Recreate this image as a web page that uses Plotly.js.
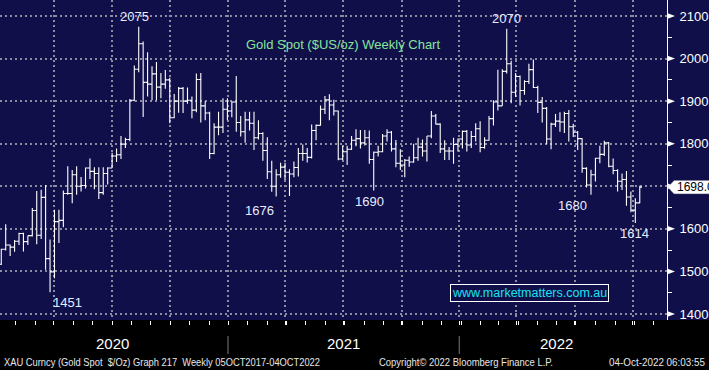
<!DOCTYPE html>
<html><head><meta charset="utf-8">
<script src="https://cdn.plot.ly/plotly-3.0.1.min.js"></script>
<style>html,body{margin:0;padding:0;background:#000;}#chart{width:709px;height:370px;}</style>
</head><body><div id="chart"></div>
<script>
// ---- DATA (weekly XAU spot, week-ending dates) ----
const weeks = [
'2020-01-03','2020-01-10','2020-01-17','2020-01-24','2020-01-31','2020-02-07','2020-02-14','2020-02-21','2020-02-28','2020-03-06',
'2020-03-13','2020-03-20','2020-03-27','2020-04-03','2020-04-10','2020-04-17','2020-04-24','2020-05-01','2020-05-08','2020-05-15',
'2020-05-22','2020-05-29','2020-06-05','2020-06-12','2020-06-19','2020-06-26','2020-07-03','2020-07-10','2020-07-17','2020-07-24',
'2020-07-31','2020-08-07','2020-08-14','2020-08-21','2020-08-28','2020-09-04','2020-09-11','2020-09-18','2020-09-25','2020-10-02',
'2020-10-09','2020-10-16','2020-10-23','2020-10-30','2020-11-06','2020-11-13','2020-11-20','2020-11-27','2020-12-04','2020-12-11',
'2020-12-18','2020-12-25','2021-01-01','2021-01-08','2021-01-15','2021-01-22','2021-01-29','2021-02-05','2021-02-12','2021-02-19',
'2021-02-26','2021-03-05','2021-03-12','2021-03-19','2021-03-26','2021-04-02','2021-04-09','2021-04-16','2021-04-23','2021-04-30',
'2021-05-07','2021-05-14','2021-05-21','2021-05-28','2021-06-04','2021-06-11','2021-06-18','2021-06-25','2021-07-02','2021-07-09',
'2021-07-16','2021-07-23','2021-07-30','2021-08-06','2021-08-13','2021-08-20','2021-08-27','2021-09-03','2021-09-10','2021-09-17',
'2021-09-24','2021-10-01','2021-10-08','2021-10-15','2021-10-22','2021-10-29','2021-11-05','2021-11-12','2021-11-19','2021-11-26',
'2021-12-03','2021-12-10','2021-12-17','2021-12-24','2021-12-31','2022-01-07','2022-01-14','2022-01-21','2022-01-28','2022-02-04',
'2022-02-11','2022-02-18','2022-02-25','2022-03-04','2022-03-11','2022-03-18','2022-03-25','2022-04-01','2022-04-08','2022-04-15',
'2022-04-22','2022-04-29','2022-05-06','2022-05-13','2022-05-20','2022-05-27','2022-06-03','2022-06-10','2022-06-17','2022-06-24',
'2022-07-01','2022-07-08','2022-07-15','2022-07-22','2022-07-29','2022-08-05','2022-08-12','2022-08-19','2022-08-26','2022-09-02',
'2022-09-09','2022-09-16','2022-09-23','2022-09-30','2022-10-07'];
const opens = [
1517,1552,1562,1557,1571,1589,1570,1584,1643,1585,
1674,1530,1499,1617,1620,1683,1683,1727,1700,1702,
1743,1735,1730,1685,1730,1743,1771,1774,1799,1810,
1902,1975,2035,1944,1940,1964,1933,1940,1950,1861,
1900,1930,1900,1902,1879,1951,1889,1872,1777,1839,
1839,1881,1877,1898,1850,1828,1856,1848,1814,1824,
1784,1734,1700,1727,1745,1733,1729,1744,1777,1777,
1768,1831,1843,1881,1903,1891,1877,1764,1781,1787,
1808,1812,1802,1814,1763,1780,1781,1818,1827,1788,
1754,1750,1761,1757,1767,1792,1783,1818,1865,1846,
1788,1783,1783,1798,1811,1829,1797,1817,1835,1791,
1808,1859,1898,1889,1970,1988,1921,1958,1925,1946,
1974,1932,1897,1883,1811,1846,1853,1851,1871,1840,
1827,1812,1742,1703,1727,1766,1775,1802,1747,1737,
1712,1716,1675,1644,1661];
const highs = [
1553,1611,1563,1574,1591,1591,1584,1649,1689,1692,
1703,1575,1645,1645,1690,1747,1738,1747,1722,1744,
1765,1745,1745,1745,1745,1779,1789,1818,1814,1905,
1984,2075,2040,2015,1982,1992,1966,1973,1955,1917,
1933,1933,1932,1911,1965,1966,1900,1875,1848,1875,
1907,1907,1900,1959,1865,1875,1875,1875,1855,1827,
1815,1760,1740,1755,1755,1740,1758,1790,1798,1790,
1845,1845,1890,1912,1916,1903,1878,1795,1795,1818,
1834,1832,1832,1831,1782,1795,1823,1834,1830,1809,
1787,1764,1770,1800,1814,1810,1818,1877,1870,1848,
1808,1792,1814,1812,1831,1832,1830,1848,1853,1815,
1865,1902,1974,1975,2070,1995,1966,1960,1949,1988,
1998,1936,1910,1886,1849,1870,1874,1875,1879,1847,
1830,1813,1745,1739,1767,1795,1807,1804,1765,1740,
1730,1736,1688,1672,1701];
const lows = [
1515,1549,1536,1546,1562,1547,1562,1582,1564,1576,
1504,1451,1484,1567,1604,1680,1660,1680,1688,1695,
1717,1693,1670,1680,1704,1743,1757,1764,1790,1806,
1900,1968,1863,1911,1902,1902,1907,1929,1848,1860,
1873,1872,1894,1860,1874,1850,1855,1764,1775,1820,
1825,1855,1862,1828,1817,1802,1831,1785,1810,1760,
1717,1687,1676,1720,1715,1677,1721,1723,1760,1756,
1765,1808,1843,1870,1855,1866,1761,1762,1750,1785,
1794,1789,1796,1753,1690,1770,1780,1805,1782,1745,
1738,1721,1746,1755,1760,1770,1758,1813,1845,1778,
1762,1762,1753,1782,1789,1782,1790,1805,1780,1788,
1807,1843,1878,1889,1965,1895,1910,1890,1915,1940,
1931,1872,1850,1799,1787,1839,1828,1825,1805,1816,
1785,1732,1697,1680,1711,1754,1771,1745,1728,1688,
1691,1654,1639,1614,1660];
const closes = [
1552,1562,1557,1571,1589,1570,1584,1643,1585,1674,
1530,1499,1617,1620,1683,1683,1727,1700,1702,1743,
1735,1730,1685,1730,1743,1771,1774,1799,1810,1902,
1975,2035,1944,1940,1964,1933,1940,1950,1861,1900,
1930,1900,1902,1879,1951,1889,1872,1777,1839,1839,
1881,1877,1898,1850,1828,1856,1848,1814,1824,1784,
1734,1700,1727,1745,1733,1729,1744,1777,1777,1768,
1831,1843,1881,1903,1891,1877,1764,1781,1787,1808,
1812,1802,1814,1763,1780,1781,1818,1827,1788,1754,
1750,1761,1757,1767,1792,1783,1818,1865,1846,1788,
1783,1783,1798,1811,1829,1797,1817,1835,1791,1808,
1859,1898,1889,1970,1988,1921,1958,1925,1946,1974,
1932,1897,1883,1811,1846,1853,1851,1871,1840,1827,
1812,1742,1703,1727,1766,1775,1802,1747,1737,1712,
1716,1675,1644,1661,1698];
const yTicks = [1400,1500,1600,1700,1800,1900,2000,2100];
const yearLabels = ['2020','2021','2022'];
const yearCenters = ['2020-06-27','2021-06-27','2022-05-29'];
const yearBreaks = ['2020-12-26','2021-12-26'];
const pointLabels = ['2075','1451','1676','1690','2070','1680','1614'];
const pointLabelX = ['2020-07-31','2020-04-17','2021-02-14','2021-08-06','2022-03-11','2022-06-23','2022-09-29'];
const pointLabelY = [2100,1428,1644,1665,2095,1656,1588];

// ---- LAYOUT ----
const NAVY = '#100f4a';
const W=709, H=370, L=0, R=42, T=0, B=50;
const pw = W-L-R, ph = H-T-B;
const PX = p => (p-L)/pw;
const PY = p => (H-B-p)/ph;
const YR = [1385.9, 2137.6];
const unitsPerPx = (YR[1]-YR[0])/ph;
const GRID = '#8c8ca0';
const FONT = 'Liberation Sans, Arial, sans-serif';
const NARROW = 'Liberation Sans Narrow, Arial Narrow, Liberation Sans, sans-serif';

const trace = {
  type:'ohlc', x:weeks, open:opens, high:highs, low:lows, close:closes,
  increasing:{line:{color:'#ffffff', width:1.1}},
  decreasing:{line:{color:'#ffffff', width:1.1}},
  tickwidth:0.5, hoverinfo:'skip', showlegend:false
};

const last = closes[closes.length-1];
const shapes = [
  {type:'rect', xref:'paper', yref:'paper', x0:1, x1:1.1, y0:0, y1:1, fillcolor:NAVY, line:{width:0}, layer:'below'}
];
const triH = 3*unitsPerPx, triW = 8/pw;
yTicks.forEach(v => shapes.push({type:'path', xref:'paper', yref:'y',
  path:`M 1,${v+triH} L ${1+triW},${v} L 1,${v-triH} Z`, fillcolor:'#ffffff', line:{width:0}}));
yearBreaks.forEach(d => shapes.push({type:'line', xref:'x', yref:'paper', x0:d, x1:d, y0:PY(336), y1:PY(354),
  line:{color:'#7a7a7a', width:1}}));
const hh = 6.5*unitsPerPx;
shapes.push({type:'path', xref:'paper', yref:'y',
  path:`M ${PX(668)},${last} L ${PX(674)},${last+hh} L ${PX(715)},${last+hh} L ${PX(715)},${last-hh} L ${PX(674)},${last-hh} Z`,
  fillcolor:'#ffffff', line:{color:'#cfcfcf', width:0.5}});

const annotations = [];
pointLabels.forEach((t,i) => annotations.push({text:t, x:pointLabelX[i], y:pointLabelY[i], xref:'x', yref:'y',
  xanchor:'center', yanchor:'middle', showarrow:false, font:{family:FONT, size:13, color:'#e6ecff'}}));
annotations.push({text:'www.marketmatters.com.au', xref:'paper', yref:'paper', x:PX(529.5), y:PY(293),
  xanchor:'center', yanchor:'middle',
  showarrow:false, bordercolor:'#ffffff', borderwidth:1, borderpad:1, bgcolor:NAVY,
  font:{family:FONT, size:12.5, color:'#1ae2f2'}});
annotations.push({text:last.toFixed(1), xref:'paper', yref:'y', x:PX(675), y:last, xanchor:'left', yanchor:'middle',
  showarrow:false, font:{family:FONT, size:12, color:'#000000'}});
yearLabels.forEach((t,i) => annotations.push({text:t, xref:'x', yref:'paper', x:yearCenters[i], y:PY(343),
  xanchor:'center', yanchor:'middle', showarrow:false, font:{family:NARROW, size:15, color:'#ffffff'}}));
const footers = [
  {text:'XAU Curncy (Gold Spot  $/Oz) Graph 217  Weekly 05OCT2017-04OCT2022', x:PX(2), xanchor:'left', w:316},
  {text:'Copyright© 2022 Bloomberg Finance L.P.', x:PX(377), xanchor:'left', w:174},
  {text:'04-Oct-2022 06:03:55', x:PX(707), xanchor:'right', w:96}
];
footers.forEach(f => annotations.push({text:f.text, xref:'paper', yref:'paper', x:f.x, y:PY(362),
  xanchor:f.xanchor, yanchor:'middle', showarrow:false, font:{family:NARROW, size:11, color:'#e6e6e6'}}));

const layout = {
  width:W, height:H, margin:{l:L, r:R, t:T, b:B, pad:0},
  paper_bgcolor:'#000000', plot_bgcolor:NAVY,
  title:{text:'Gold Spot ($US/oz) Weekly Chart', x:343/W, y:1-44/H, xref:'container', yref:'container',
    xanchor:'center', yanchor:'middle', font:{family:FONT, size:13, color:'#86e59c'}},
  xaxis:{type:'date', range:['2020-01-01','2022-11-19'], tickmode:'linear', tick0:'2020-03-26', dtick:'M3',
    showticklabels:false, ticks:'outside', ticklen:4, tickcolor:'#ffffff', tickwidth:1,
    showgrid:true, gridcolor:GRID, griddash:'2px,3px', gridwidth:2,
    minor:{ticks:'outside', ticklen:4, tickcolor:'#ffffff', tickwidth:1, tickmode:'linear', dtick:'M1', tick0:'2020-03-26', showgrid:false},
    rangeslider:{visible:false}, showline:false, zeroline:false, fixedrange:true},
  yaxis:{side:'right', range:YR, tickmode:'array', tickvals:yTicks,
    ticktext:yTicks.map(v => Math.abs(v-last) < 2*hh ? '' : String(v)), ticks:'',
    showline:true, linecolor:'#ffffff', linewidth:1,
    showgrid:true, gridcolor:GRID, griddash:'2px,3px', gridwidth:2,
    tickfont:{family:FONT, size:13, color:'#ffffff'}, ticklabelstandoff:9,
    minor:{ticks:'outside', ticklen:4, tickcolor:'#ffffff', tickwidth:1, tickmode:'linear', dtick:50, tick0:1350, showgrid:false},
    zeroline:false, fixedrange:true},
  shapes:shapes, annotations:annotations, showlegend:false, hovermode:false
};

Plotly.newPlot('chart', [trace], layout, {staticPlot:true, displayModeBar:false}).then(gd => {
  // condense footer texts to the narrow widths of the Bloomberg footer (text is centre-anchored)
  gd.querySelectorAll('.annotation-text').forEach(t => {
    const f = footers.find(ff => ff.text === t.textContent);
    if (!f) return;
    const bb = t.getComputedTextLength();
    if (bb <= f.w) return;
    const x = parseFloat(t.getAttribute('x') || 0);
    const d = (bb - f.w) / 2;
    t.setAttribute('textLength', f.w);
    t.setAttribute('lengthAdjust', 'spacingAndGlyphs');
    t.setAttribute('x', f.xanchor === 'left' ? x - d : x + d);
  });
});
</script></body></html>
